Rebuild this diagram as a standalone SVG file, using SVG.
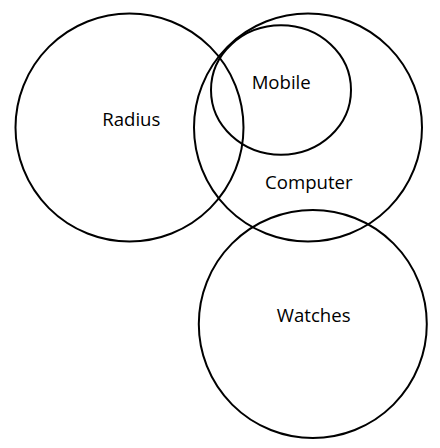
<svg xmlns="http://www.w3.org/2000/svg" width="440" height="448" viewBox="0 0 440 448">
<style>
.c{fill:none;stroke:#000;stroke-width:2}
.t{font-family:"Open Sans","Noto Sans",sans-serif;font-size:18.6px;fill:#000;text-anchor:middle}
</style>
<rect width="440" height="448" fill="#fff"/>
<g id="connectors"></g>
<g id="radius"><circle class="c" cx="129.5" cy="127.5" r="114"/><text class="t" x="131.3" y="125.7">Radius</text></g>
<g id="computer"><circle class="c" cx="308" cy="127.5" r="114"/><text class="t" x="308.8" y="189">Computer</text></g>
<g id="mobile"><ellipse class="c" cx="281" cy="90" rx="70" ry="64.7"/><text class="t" x="281.2" y="89">Mobile</text></g>
<g id="watches"><circle class="c" cx="312.8" cy="324" r="114"/><text class="t" x="313.7" y="322">Watches</text></g>
</svg>
